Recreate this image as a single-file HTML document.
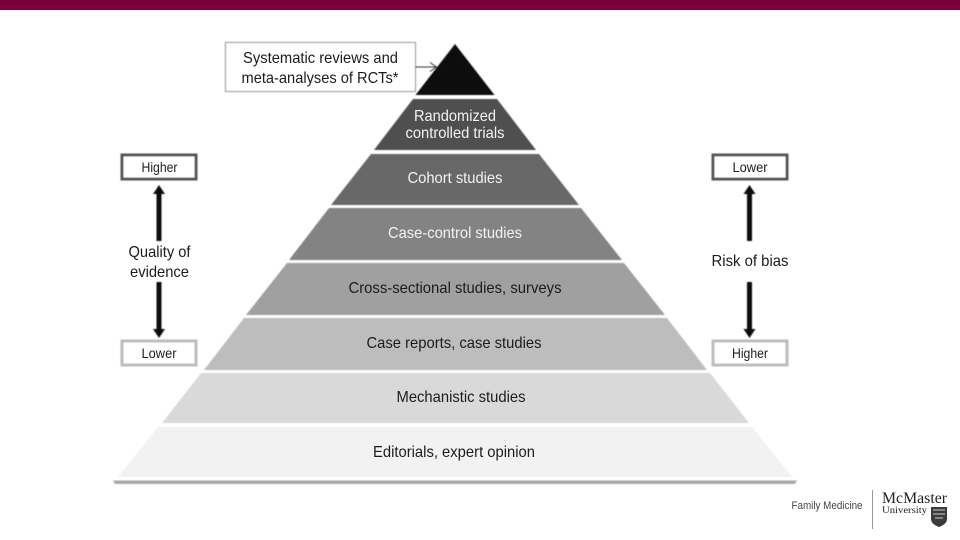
<!DOCTYPE html>
<html lang="en">
<head>
<meta charset="utf-8">
<title>Evidence pyramid</title>
<style>
html,body{margin:0;padding:0;background:#fff;width:960px;height:540px;overflow:hidden}
svg{display:block}
text{font-family:"Liberation Sans",sans-serif;font-size:16px;fill:#1c1c1c;text-anchor:middle}
.l{fill:#f2f2f2}
.s{font-size:13.5px}
</style>
</head>
<body>
<svg width="960" height="540" viewBox="0 0 960 540" xmlns="http://www.w3.org/2000/svg">
<defs>
<filter id="b" x="-5%" y="-5%" width="110%" height="110%"><feGaussianBlur stdDeviation="0.45"/></filter>
<filter id="t" x="-5%" y="-5%" width="110%" height="110%"><feGaussianBlur stdDeviation="0.25"/></filter>
</defs>
<rect width="960" height="540" fill="#fff"/>
<rect width="960" height="10" fill="#7a0039"/>

<g filter="url(#b)">
<polygon points="113,480.500 797,480.500 795,484 115,484" fill="#a9a9a9"/>
<polygon points="455,44 494.500,95 415.500,95" fill="#0c0c0c"/>
<polygon points="413,99 497,99 536,150 374,150" fill="#505050"/>
<polygon points="371,154 539,154 579,205 331,205" fill="#686868"/>
<polygon points="329,208 581,208 622,260 289,260" fill="#838383"/>
<polygon points="287,263 624,263 665,315 246,315" fill="#a0a0a0"/>
<polygon points="244,318 667,318 707,370 204,370" fill="#bdbdbd"/>
<polygon points="201,373 710,373 749,423 162,423" fill="#d9d9d9"/>
<polygon points="158,427 752,427 792,477 118,477" fill="#f2f2f2"/>

<rect x="225.500" y="42.500" width="190" height="49" fill="#fff" stroke="#8a8a8a" stroke-width="1"/>
<path d="M415 67H436M430 62.500L436.500 67L430 71.500" fill="none" stroke="#333" stroke-width="1"/>

<rect x="122" y="155" width="74" height="24" fill="#fff" stroke="#555" stroke-width="3"/>
<rect x="122" y="341" width="74" height="24" fill="#fff" stroke="#bcbcbc" stroke-width="3"/>
<rect x="713" y="155" width="74" height="24" fill="#fff" stroke="#555" stroke-width="3"/>
<rect x="713" y="341" width="74" height="24" fill="#fff" stroke="#bcbcbc" stroke-width="3"/>

<g fill="#111">
<polygon points="156.500,241 161.500,241 161.500,194 165,194 159,185 153,194 156.500,194"/>
<polygon points="156.500,282 161.500,282 161.500,329 165,329 159,338 153,329 156.500,329"/>
<polygon points="747,241 752,241 752,194 755.500,194 749.500,185 743.500,194 747,194"/>
<polygon points="747,282 752,282 752,329 755.500,329 749.500,338 743.500,329 747,329"/>
</g>
</g>

<g filter="url(#t)">
<text x="320.500" y="63" textLength="155" lengthAdjust="spacingAndGlyphs">Systematic reviews and</text>
<text x="320" y="83" textLength="157" lengthAdjust="spacingAndGlyphs">meta-analyses of RCTs*</text>

<text class="l" x="455" y="121" textLength="82" lengthAdjust="spacingAndGlyphs">Randomized</text>
<text class="l" x="455" y="138" textLength="99" lengthAdjust="spacingAndGlyphs">controlled trials</text>
<text class="l" x="455" y="183" textLength="95" lengthAdjust="spacingAndGlyphs">Cohort studies</text>
<text class="l" x="455" y="238" textLength="134" lengthAdjust="spacingAndGlyphs">Case-control studies</text>
<text x="455" y="293" textLength="213" lengthAdjust="spacingAndGlyphs">Cross-sectional studies, surveys</text>
<text x="454" y="348" textLength="175" lengthAdjust="spacingAndGlyphs">Case reports, case studies</text>
<text x="461" y="402" textLength="129" lengthAdjust="spacingAndGlyphs">Mechanistic studies</text>
<text x="454" y="457" textLength="162" lengthAdjust="spacingAndGlyphs">Editorials, expert opinion</text>

<text class="s" x="159.500" y="172" textLength="36" lengthAdjust="spacingAndGlyphs">Higher</text>
<text class="s" x="159" y="358" textLength="35" lengthAdjust="spacingAndGlyphs">Lower</text>
<text class="s" x="750" y="172" textLength="35" lengthAdjust="spacingAndGlyphs">Lower</text>
<text class="s" x="750" y="358" textLength="36" lengthAdjust="spacingAndGlyphs">Higher</text>

<text x="159.500" y="257" textLength="62" lengthAdjust="spacingAndGlyphs">Quality of</text>
<text x="159.500" y="277" textLength="59" lengthAdjust="spacingAndGlyphs">evidence</text>
<text x="750" y="266" textLength="77" lengthAdjust="spacingAndGlyphs">Risk of bias</text>

<text x="827" y="509" style="font-size:11px;fill:#444" textLength="71" lengthAdjust="spacingAndGlyphs">Family Medicine</text>
<rect x="872" y="490" width="1" height="39" fill="#999"/>
<text x="914.500" y="503" style="font-family:'Liberation Serif',serif;font-size:16px;fill:#222" textLength="65" lengthAdjust="spacingAndGlyphs">McMaster</text>
<text x="904.500" y="513" style="font-family:'Liberation Serif',serif;font-size:9.500px;fill:#222" textLength="45" lengthAdjust="spacingAndGlyphs">University</text>
<path d="M931 507H947V519Q947 524 939 527Q931 524 931 519Z" fill="#3a3a3a"/>
<path d="M933 510H945M933 514H945M935 518H943" stroke="#ccc" stroke-width="1" fill="none"/>
</g>
</svg>
</body>
</html>
